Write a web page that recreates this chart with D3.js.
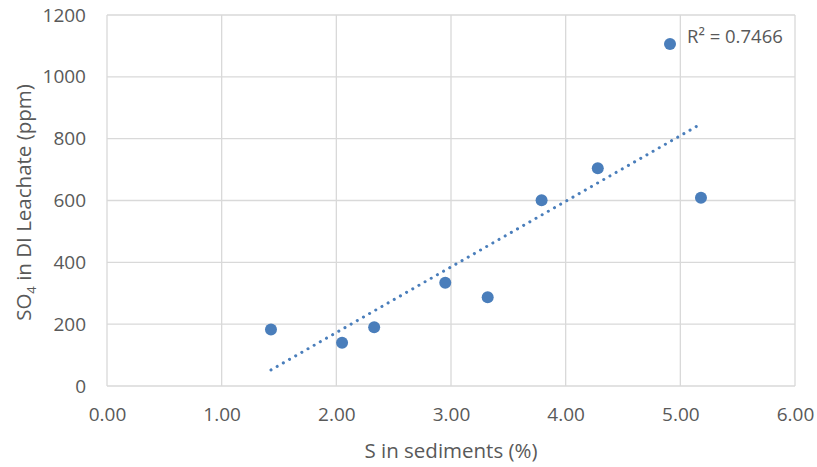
<!DOCTYPE html>
<html>
<head>
<meta charset="utf-8">
<script src="https://cdn.jsdelivr.net/npm/d3@7"></script>
<style>
  html, body { margin: 0; padding: 0; background: #fff; }
  text { font-family: "Open Sans", "Segoe UI", sans-serif; fill: #595959; }
</style>
</head>
<body>
<svg id="chart" width="817" height="467"></svg>
<script>
// Sulfur content of sediments vs. sulfate in DI leachate
const sulfurPct = [1.43, 2.05, 2.33, 2.95, 3.32, 3.79, 4.28, 4.91, 5.18];
const sulfatePpm = [183, 140, 190, 334, 287, 601, 704, 1106, 609];
const xTicks = [0, 1, 2, 3, 4, 5, 6];
const yTicks = [0, 200, 400, 600, 800, 1000, 1200];
const rSquaredLabel = "R² = 0.7466";

const svg = d3.select("#chart");
const plotLeft = 107, plotRight = 795, plotTop = 15, plotBottom = 386;

const x = d3.scaleLinear().domain([0, 6]).range([plotLeft, plotRight]);
const y = d3.scaleLinear().domain([0, 1200]).range([plotBottom, plotTop]);

const grid = "#d9d9d9";

// vertical gridlines
svg.append("g").selectAll("line").data(xTicks).join("line")
  .attr("x1", d => x(d)).attr("x2", d => x(d))
  .attr("y1", plotTop).attr("y2", plotBottom)
  .attr("stroke", grid).attr("stroke-width", 1.3);

// horizontal gridlines
svg.append("g").selectAll("line").data(yTicks).join("line")
  .attr("x1", plotLeft).attr("x2", plotRight)
  .attr("y1", d => y(d)).attr("y2", d => y(d))
  .attr("stroke", grid).attr("stroke-width", 1.3);

// axes (labels only, lines come from gridlines)
const xAxis = svg.append("g").attr("transform", `translate(0,${plotBottom})`)
  .call(d3.axisBottom(x).tickValues(xTicks).tickFormat(d3.format(".2f")).tickSize(0).tickPadding(22));
const yAxis = svg.append("g").attr("transform", `translate(${plotLeft},0)`)
  .call(d3.axisLeft(y).tickValues(yTicks).tickFormat(d3.format("d")).tickSize(0).tickPadding(21));
[xAxis, yAxis].forEach(a => {
  a.select(".domain").remove();
  a.selectAll("text").attr("font-size", 19).attr("fill", "#595959")
    .attr("font-family", "'Open Sans', sans-serif");
});

// linear trendline (least squares)
const n = sulfurPct.length;
const mx = d3.mean(sulfurPct), my = d3.mean(sulfatePpm);
let sxy = 0, sxx = 0;
for (let i = 0; i < n; i++) {
  sxy += (sulfurPct[i] - mx) * (sulfatePpm[i] - my);
  sxx += (sulfurPct[i] - mx) ** 2;
}
const slope = sxy / sxx, intercept = my - slope * mx;
const x0 = d3.min(sulfurPct), x1 = d3.max(sulfurPct);
svg.append("line")
  .attr("x1", x(x0)).attr("y1", y(intercept + slope * x0))
  .attr("x2", x(x1)).attr("y2", y(intercept + slope * x1))
  .attr("stroke", "#4a7ebb").attr("stroke-width", 3)
  .attr("stroke-linecap", "round").attr("stroke-dasharray", "0.1,7");

// data points
svg.append("g").selectAll("circle").data(d3.zip(sulfurPct, sulfatePpm)).join("circle")
  .attr("cx", d => x(d[0])).attr("cy", d => y(d[1]))
  .attr("r", 6).attr("fill", "#4a7ebb");

// R² annotation
svg.append("text").attr("x", 687).attr("y", 43)
  .attr("font-size", 18.5).text(rSquaredLabel);

// axis titles
svg.append("text").attr("x", 451).attr("y", 458)
  .attr("text-anchor", "middle").attr("font-size", 20.5)
  .text("S in sediments (%)");

const yTitle = svg.append("text")
  .attr("transform", `translate(31,${(plotTop + plotBottom) / 2 + 2}) rotate(-90)`)
  .attr("text-anchor", "middle").attr("font-size", 20.5);
yTitle.append("tspan").text("SO");
yTitle.append("tspan").attr("font-size", 13).attr("dy", 5).text("4");
yTitle.append("tspan").attr("dy", -5).text(" in DI Leachate (ppm)");
</script>
</body>
</html>
